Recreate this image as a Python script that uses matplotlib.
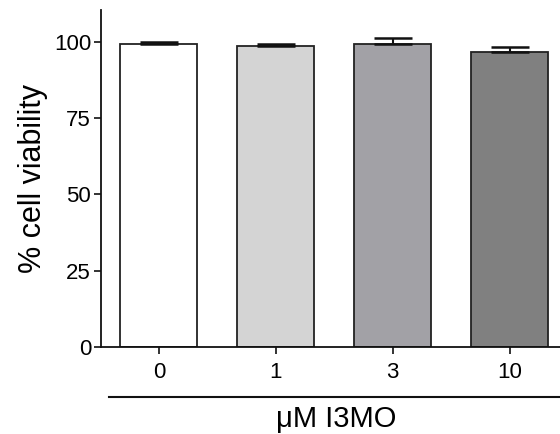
import matplotlib.pyplot as plt

plt.rcParams['font.family'] = ['Liberation Sans', 'DejaVu Sans']

doses = ['0', '1', '3', '10']
viability = [99.3, 98.7, 99.3, 96.7]
sem = [0.7, 0.7, 2.1, 1.7]
colors = ['#ffffff', '#d4d4d4', '#a2a1a6', '#808080']

fig = plt.figure(figsize=(5.6, 4.34), dpi=100)
ax = fig.add_axes([0.18, 0.2005, 0.82, 0.777])

x = list(range(len(doses)))
ax.bar(x, viability, width=0.66, color=colors, edgecolor='#222222', linewidth=1.3, zorder=2)
ax.errorbar(x, viability, yerr=[[0] * len(sem), sem], fmt='none', ecolor='#111111',
            elinewidth=1.5, capsize=14, capthick=1.8, zorder=3)

ax.set_xlim(-0.496, 3.43)
ax.set_ylim(0, 110.5)
ax.set_yticks([0, 25, 50, 75, 100])
ax.set_xticks(x)
ax.set_xticklabels(doses)
ax.tick_params(axis='both', labelsize=16, width=1.2, length=5, color='#111111')
ax.tick_params(axis='x', pad=6)
ax.tick_params(axis='y', pad=2)

for s in ['top', 'right']:
    ax.spines[s].set_visible(False)
for s in ['left', 'bottom']:
    ax.spines[s].set_linewidth(1.3)
    ax.spines[s].set_color('#111111')

ax.set_ylabel('% cell viability', fontsize=22, labelpad=4)

ax.plot([0.017, 1.0], [-0.148, -0.148], transform=ax.transAxes, color='#111111',
        lw=1.5, clip_on=False)
ax.text(0.512, -0.213, 'μM I3MO', transform=ax.transAxes, ha='center', va='center',
        fontsize=21)

plt.savefig('out.png', dpi=100)
